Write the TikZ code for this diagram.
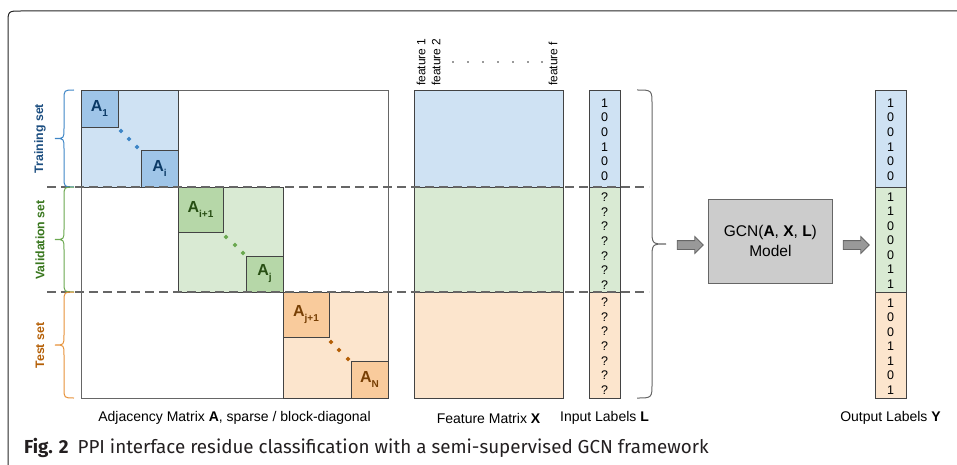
\documentclass[tikz,border=0pt]{standalone}
\usepackage{fontspec}
\setmainfont{Liberation Sans}
\newfontfamily\capfont{Fira Sans}
\usetikzlibrary{shapes.arrows,shapes.geometric}
\definecolor{bluel}{HTML}{CFE2F3}
\definecolor{blued}{HTML}{9FC5E8}
\definecolor{greenl}{HTML}{D9EAD3}
\definecolor{greend}{HTML}{B6D7A8}
\definecolor{orangel}{HTML}{FCE5CD}
\definecolor{oranged}{HTML}{F9CB9C}
\definecolor{bluetxt}{HTML}{0B3A66}
\definecolor{greentxt}{HTML}{274E13}
\definecolor{orangetxt}{HTML}{783F04}
\definecolor{bluedot}{HTML}{3D85C6}
\definecolor{greendot}{HTML}{6AA84F}
\definecolor{orangedot}{HTML}{B45F06}
\definecolor{bluebr}{HTML}{3D85C6}
\definecolor{greenbr}{HTML}{6AA84F}
\definecolor{orangebr}{HTML}{E69138}
\definecolor{bluesl}{HTML}{1C4E80}
\definecolor{greensl}{HTML}{38761D}
\definecolor{orangesl}{HTML}{B45F06}
\definecolor{bordr}{HTML}{434343}
\definecolor{gline}{HTML}{666666}
\definecolor{gfill}{HTML}{CCCCCC}
\definecolor{afill}{HTML}{999999}
\definecolor{captxt}{HTML}{231F20}
\newcommand\Asub[1]{\textbf{A}\raisebox{-5pt}{\fontsize{10}{10}\selectfont\textbf{#1}}}
\newcommand\setbrace[4]{%
  \draw[#1, line width=1pt] (74,#2) .. controls (64,#2) .. (64,{#2+10}) -- (64,{#4-10})
    .. controls (64,#4) .. (55,#4) .. controls (64,#4) .. (64,{#4+10}) -- (64,{#3-10})
    .. controls (64,#3) .. (74,#3);}
\begin{document}
\begin{tikzpicture}[x=1pt,y=-1pt,
  blk/.style={draw=bordr, line width=0.8pt, inner sep=0pt, outer sep=0pt, anchor=north west},
  sub/.style={blk, font=\fontsize{16}{16}\selectfont},
  num/.style={inner sep=0pt, font=\fontsize{12.5}{12.5}\selectfont},
  feat/.style={rotate=90, anchor=west, inner sep=0pt, font=\fontsize{12}{12}\selectfont},
  setlbl/.style={rotate=90, inner sep=0pt, font=\fontsize{12.3}{12.3}\selectfont\bfseries},
  botlbl/.style={inner sep=0pt, font=\fontsize{14}{14}\selectfont},
  dsep/.style={gline, line width=1.6pt, dash pattern=on 9pt off 5pt},
  garrow/.style={single arrow, draw=gline, fill=afill, line width=0.8pt, inner xsep=0pt,
    inner ysep=4pt, single arrow head extend=4pt, minimum height=26pt},
  mdot/.style={diamond, inner sep=0pt, minimum size=5pt}
]
\useasboundingbox (0,0) rectangle (957,465);
% frame
\draw[black!85, line width=1pt] (8,465) -- (8,24) .. controls (8,11) .. (21,11) -- (957,11);

% adjacency matrix
\node[blk, draw=gline, minimum width=307pt, minimum height=308pt] (adj) at (81,90) {};
\node[blk, fill=bluel, minimum width=97pt, minimum height=97pt] (Btr) at (81,90) {};
\node[blk, fill=greenl, minimum width=105pt, minimum height=105pt] (Bva) at (178,187) {};
\node[blk, fill=orangel, minimum width=105pt, minimum height=106pt] (Bte) at (283,292) {};
\node[sub, fill=blued, text=bluetxt, minimum width=37pt, minimum height=37pt] (A1) at (81,90) {\Asub{1}};
\node[sub, fill=blued, text=bluetxt, minimum width=37pt, minimum height=37pt] (Ai) at (141,150) {\Asub{i}};
\node[sub, fill=greend, text=greentxt, minimum width=45pt, minimum height=45pt] (Ai1) at (178,187) {\Asub{i+1}};
\node[sub, fill=greend, text=greentxt, minimum width=37pt, minimum height=36pt] (Aj) at (246,256) {\Asub{j}};
\node[sub, fill=oranged, text=orangetxt, minimum width=46pt, minimum height=45pt] (Aj1) at (283,292) {\Asub{j+1}};
\node[sub, fill=oranged, text=orangetxt, minimum width=37pt, minimum height=37pt] (AN) at (351,361) {\Asub{N}};
% diagonal dots
\foreach \p [count=\k] in {(121,131),(129,139),(137,147)} \node[mdot, fill=bluedot] (db\k) at \p {};
\foreach \p [count=\k] in {(226,237),(235,245),(243,253)} \node[mdot, fill=greendot] (dg\k) at \p {};
\foreach \p [count=\k] in {(331,342),(339,350),(348,359)} \node[mdot, fill=orangedot] (do\k) at \p {};

% feature matrix
\node[blk, fill=bluel, minimum width=149pt, minimum height=97pt] (Ftr) at (414,90) {};
\node[blk, fill=greenl, minimum width=149pt, minimum height=105pt] (Fva) at (414,187) {};
\node[blk, fill=orangel, minimum width=149pt, minimum height=106pt] (Fte) at (414,292) {};
\node[feat] (f1) at (421,86) {feature 1};
\node[feat] (f2) at (436,86) {feature 2};
\node[feat] (ff) at (553,86) {feature f};
\foreach \x [count=\k] in {453,468,483,498,513,528,542} \fill[black!80] (\x,62) circle[radius=0.8];

% input labels
\node[blk, fill=bluel, minimum width=31pt, minimum height=97pt] (Ltr) at (589,90) {};
\node[blk, fill=greenl, minimum width=31pt, minimum height=105pt] (Lva) at (589,187) {};
\node[blk, fill=orangel, minimum width=31pt, minimum height=106pt] (Lte) at (589,292) {};
\foreach \v [count=\k] in {1,0,0,1,0,0} \node[num] (Lt\k) at (604.5,{103+(\k-1)*14.6}) {\v};
\foreach \v [count=\k] in {?,?,?,?,?,?,?} \node[num] (Lv\k) at (604.5,{197+(\k-1)*14.7}) {\v};
\foreach \v [count=\k] in {?,?,?,?,?,?,?} \node[num] (Le\k) at (604.5,{302+(\k-1)*14.7}) {\v};

% output labels
\node[blk, fill=bluel, minimum width=31pt, minimum height=97pt] (Otr) at (875,90) {};
\node[blk, fill=greenl, minimum width=31pt, minimum height=105pt] (Ova) at (875,187) {};
\node[blk, fill=orangel, minimum width=31pt, minimum height=106pt] (Ote) at (875,292) {};
\foreach \v [count=\k] in {1,0,0,1,0,0} \node[num] (Ot\k) at (890.5,{103+(\k-1)*14.6}) {\v};
\foreach \v [count=\k] in {1,1,0,0,0,1,1} \node[num] (Ov\k) at (890.5,{197+(\k-1)*14.5}) {\v};
\foreach \v [count=\k] in {1,0,0,1,1,0,1} \node[num] (Oe\k) at (890.5,{303+(\k-1)*14.5}) {\v};

% dashed separators
\coordinate (d1a) at (47,187); \coordinate (d1b) at (649,187);
\coordinate (d2a) at (47,292); \coordinate (d2b) at (649,292);
\draw[dsep] (d1a) -- (d1b);
\draw[dsep] (d2a) -- (d2b);

% set braces and labels
\setbrace{bluebr}{90}{187}{138.5}
\setbrace{greenbr}{187}{292}{239.5}
\setbrace{orangebr}{292}{398}{345}
\node[setlbl, text=bluesl] (strain) at (40,138.5) {Training set};
\node[setlbl, text=greensl] (sval) at (40,240) {Validation set};
\node[setlbl, text=orangesl] (stest) at (40,345.5) {Test set};

% big brace
\coordinate (tip) at (666,244);
\draw[gline, line width=1pt] (637,90) .. controls (652,90) .. (652,105) -- (652,229)
  .. controls (652,244) .. (tip) .. controls (652,244) .. (652,259) -- (652,383)
  .. controls (652,398) .. (637,398);

% GCN model
\node[draw=gline, fill=gfill, line width=0.8pt, minimum width=124pt, minimum height=84pt,
  anchor=north west, align=center, font=\fontsize{15.5}{20}\selectfont] (gcn) at (708,199)
  {GCN(\textbf{A}, \textbf{X}, \textbf{L})\\Model};
\node[garrow] (ar1) at (688,245) {};
\node[garrow] (ar2) at (854,245) {};

% bottom labels
\node[botlbl] (labA) at (234.5,418) {Adjacency Matrix \textbf{A}, sparse / block-diagonal};
\node[botlbl] (labX) at (488.5,418) {Feature Matrix \textbf{X}};
\node[botlbl] (labL) at (604.5,418) {Input Labels \textbf{L}};
\node[botlbl] (labY) at (890.5,418) {Output Labels \textbf{Y}};

% caption
\node[anchor=west, inner sep=0pt, text=captxt, font=\capfont\fontsize{18.8}{18.8}\selectfont] (cap) at (24,448)
  {\textbf{Fig. 2}\hspace{9pt}PPI interface residue classification with a semi-supervised GCN framework};
\end{tikzpicture}
\end{document}
